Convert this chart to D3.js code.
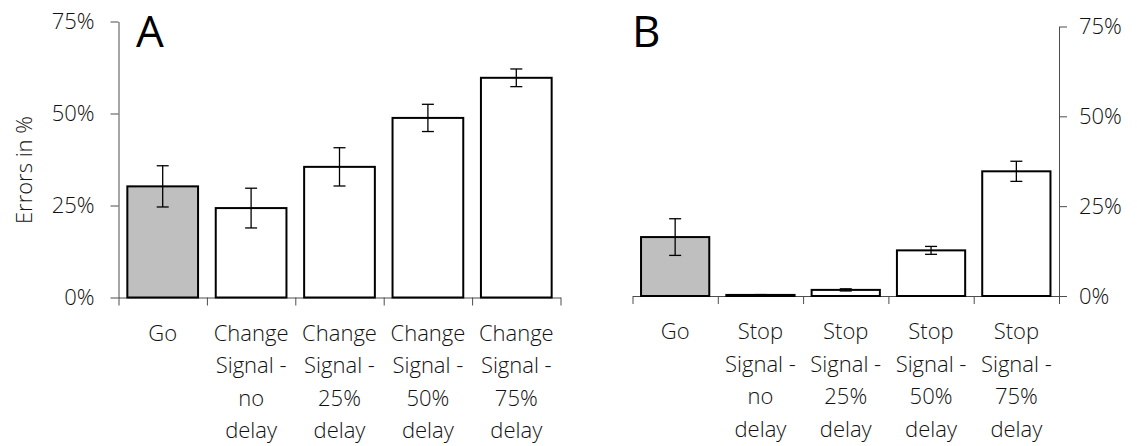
<!DOCTYPE html>
<html>
<head>
<meta charset="utf-8">
<script src="https://cdn.jsdelivr.net/npm/d3@7"></script>
<style>
  html, body { margin: 0; padding: 0; background: #fff; }
  svg { display: block; }
  text { font-family: "Open Sans", sans-serif; }
</style>
</head>
<body>
<svg id="chart" width="1137" height="446"></svg>
<script>
// ---------- data ----------
const leftCategories = [
  ["Go"],
  ["Change", "Signal -", "no", "delay"],
  ["Change", "Signal -", "25%", "delay"],
  ["Change", "Signal -", "50%", "delay"],
  ["Change", "Signal -", "75%", "delay"]
];
const leftValues = [30.2, 24.3, 35.5, 48.8, 59.7];
const leftErrors = [5.6, 5.4, 5.2, 3.7, 2.4];

const rightCategories = [
  ["Go"],
  ["Stop", "Signal -", "no", "delay"],
  ["Stop", "Signal -", "25%", "delay"],
  ["Stop", "Signal -", "50%", "delay"],
  ["Stop", "Signal -", "75%", "delay"]
];
const rightValues = [16.4, 0.3, 1.7, 12.7, 34.7];
const rightErrors = [5.1, 0.1, 0.3, 1.1, 2.8];

const yTicks = [0, 25, 50, 75];
const barFills = ["#bfbfbf", "#ffffff", "#ffffff", "#ffffff", "#ffffff"];
const yAxisTitle = "Errors in %";
const panelLetters = ["A", "B"];

// ---------- drawing ----------
const svg = d3.select("#chart");
const axisColor = "#4d4d4d";
const textColor = "#111111";

function drawPanel(opts) {
  const { cats, vals, errs, x0, x1, yBottom, yTop, side, letter, letterX } = opts;
  const g = svg.append("g");
  const keys = cats.map((c, i) => i);
  const xb = d3.scaleBand().domain(keys).range([x0, x1]).padding(0);
  const y = d3.scaleLinear().domain([0, 75]).range([yBottom, yTop]);
  const bw = xb.bandwidth();

  // x axis with ticks at category boundaries
  const xl = d3.scaleLinear().domain([0, cats.length]).range([x0, x1]);
  const xAxis = g.append("g")
    .attr("transform", `translate(0,${yBottom})`)
    .call(d3.axisBottom(xl).tickValues(d3.range(cats.length + 1)).tickFormat("").tickSize(8).tickSizeOuter(0));
  xAxis.select(".domain").attr("stroke", axisColor);
  xAxis.selectAll(".tick line").attr("stroke", axisColor);

  // y axis
  const axisX = side === "left" ? x0 : x1;
  const yAxisGen = (side === "left" ? d3.axisLeft(y) : d3.axisRight(y))
    .tickValues(yTicks).tickFormat(d => d + "%").tickSize(8).tickSizeOuter(0).tickPadding(side === "left" ? 16 : 12);
  const yAxis = g.append("g").attr("transform", `translate(${axisX},0)`).call(yAxisGen);
  yAxis.select(".domain").attr("stroke", axisColor);
  yAxis.selectAll(".tick line").attr("stroke", axisColor);
  yAxis.selectAll(".tick text")
    .attr("fill", textColor)
    .style("font-family", '"Open Sans", sans-serif')
    .style("font-weight", 300)
    .style("font-size", "22px");

  // bars
  g.selectAll("rect.bar").data(vals).join("rect")
    .attr("class", "bar")
    .attr("x", (d, i) => xb(i) + bw * 0.1)
    .attr("width", bw * 0.8)
    .attr("y", d => y(d))
    .attr("height", d => y(0) - y(d))
    .attr("fill", (d, i) => barFills[i])
    .attr("stroke", "#000")
    .attr("stroke-width", 2);

  // error bars
  const cap = 6;
  const eb = g.selectAll("g.err").data(vals).join("g").attr("class", "err");
  eb.append("line")
    .attr("x1", (d, i) => xb(i) + bw / 2).attr("x2", (d, i) => xb(i) + bw / 2)
    .attr("y1", (d, i) => y(d + errs[i])).attr("y2", (d, i) => y(d - errs[i]));
  eb.append("line")
    .attr("x1", (d, i) => xb(i) + bw / 2 - cap).attr("x2", (d, i) => xb(i) + bw / 2 + cap)
    .attr("y1", (d, i) => y(d + errs[i])).attr("y2", (d, i) => y(d + errs[i]));
  eb.append("line")
    .attr("x1", (d, i) => xb(i) + bw / 2 - cap).attr("x2", (d, i) => xb(i) + bw / 2 + cap)
    .attr("y1", (d, i) => y(d - errs[i])).attr("y2", (d, i) => y(d - errs[i]));
  eb.selectAll("line").attr("stroke", "#000").attr("stroke-width", 1.3);

  // category labels
  const lab = g.selectAll("text.cat").data(cats).join("text")
    .attr("class", "cat")
    .attr("text-anchor", "middle")
    .attr("fill", textColor)
    .style("font-weight", 300)
    .style("font-size", "22px");
  lab.each(function(lines, i) {
    const t = d3.select(this);
    lines.forEach((ln, j) => {
      t.append("tspan")
        .attr("x", xb(i) + bw / 2)
        .attr("y", yBottom + 43 + j * 32.5)
        .text(ln);
    });
  });

  // panel letter
  g.append("text")
    .attr("x", letterX).attr("y", 46.5)
    .attr("fill", "#000")
    .style("font-size", "44px")
    .style("font-weight", 400)
    .text(letter);
}

drawPanel({
  cats: leftCategories, vals: leftValues, errs: leftErrors,
  x0: 118.5, x1: 560.5, yBottom: 297.5, yTop: 21.5, side: "left",
  letter: panelLetters[0], letterX: 136
});
drawPanel({
  cats: rightCategories, vals: rightValues, errs: rightErrors,
  x0: 632.5, x1: 1059, yBottom: 296, yTop: 26.5, side: "right",
  letter: panelLetters[1], letterX: 632
});

// y-axis title
svg.append("text")
  .attr("transform", "translate(32,170) rotate(-90)")
  .attr("text-anchor", "middle")
  .attr("fill", textColor)
  .style("font-weight", 300)
  .style("font-size", "22px")
  .text(yAxisTitle);
</script>
</body>
</html>
